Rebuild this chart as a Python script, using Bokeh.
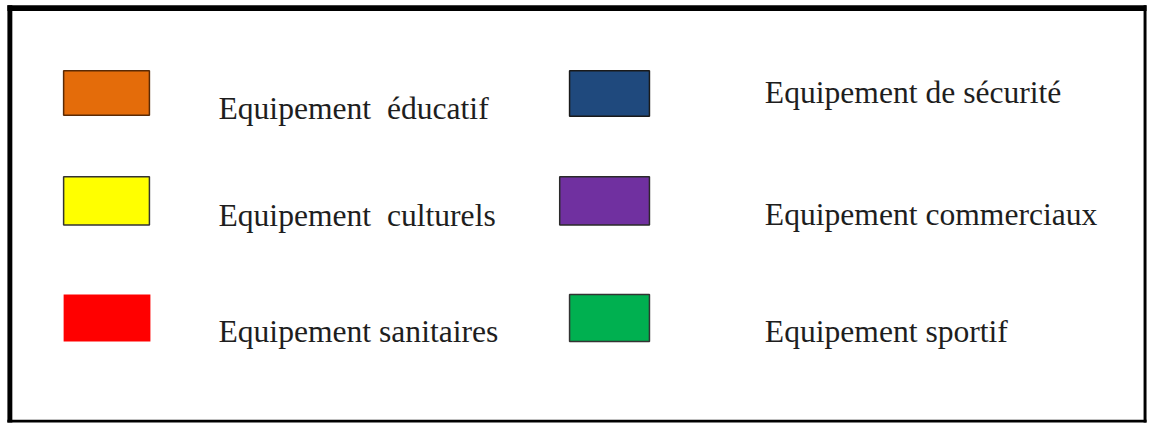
from bokeh.plotting import figure
from bokeh.models import Range1d, ColumnDataSource
from bokeh.core.properties import value
from bokeh.embed import file_html
from bokeh.resources import INLINE

# ---- data ----
categories = [
    "Equipement  éducatif",
    "Equipement  culturels",
    "Equipement sanitaires",
    "Equipement de sécurité",
    "Equipement commerciaux",
    "Equipement sportif",
]
colors = ["#E46C0A", "#FFFF00", "#FF0000", "#1F497D", "#7030A0", "#00B050"]
border_colors = ["#5a2a05", "#333333", None, "#1a1a1a", "#2a2a2a", "#333333"]

# ---- layout (in reference-image pixels; the figure maps them to its size) ----
RW, RH = 1164, 439
W, H = 1148, 423
sw_left = [64, 64, 64, 577, 567, 577]
sw_right = [151, 151, 152, 658, 658, 658]
sw_top = [73, 183, 305, 73, 183, 305]
sw_bottom = [119, 233, 354, 120, 233, 354]
tx = [221, 221, 221, 775, 775, 775]
ty = [112, 223, 344, 95, 222, 344]

p = figure(width=W, height=H, output_backend="svg", toolbar_location=None,
           x_range=Range1d(0, RW), y_range=Range1d(RH, 0),
           min_border=0, outline_line_color=None)
p.axis.visible = False
p.grid.visible = False
p.background_fill_color = "white"
p.border_fill_color = "white"

# frame: thick left/top, thinner right/bottom
p.quad(left=[7, 7, 1159, 7], right=[12, 1162, 1162, 1162],
       top=[5, 5, 5, 435], bottom=[438, 11, 438, 438],
       fill_color="black", line_color=None)

src = ColumnDataSource(dict(
    l=sw_left, r=sw_right, t=sw_top, b=sw_bottom,
    fc=colors, lc=[c if c else colors[i] for i, c in enumerate(border_colors)],
    lw=[0 if c is None else 1.5 for c in border_colors],
    x=tx, y=ty, txt=[c.replace("  ", " \u00a0") for c in categories],
))
p.quad(left="l", right="r", top="t", bottom="b", fill_color="fc",
       line_color="lc", line_width="lw", source=src)
p.text(x="x", y="y", text="txt", source=src, text_font=value("Liberation Serif"),
       text_font_size="31.6px", text_color="#1e1e1e", text_align="left",
       text_baseline="alphabetic")

open("out.html", "w").write(file_html(p, INLINE))
